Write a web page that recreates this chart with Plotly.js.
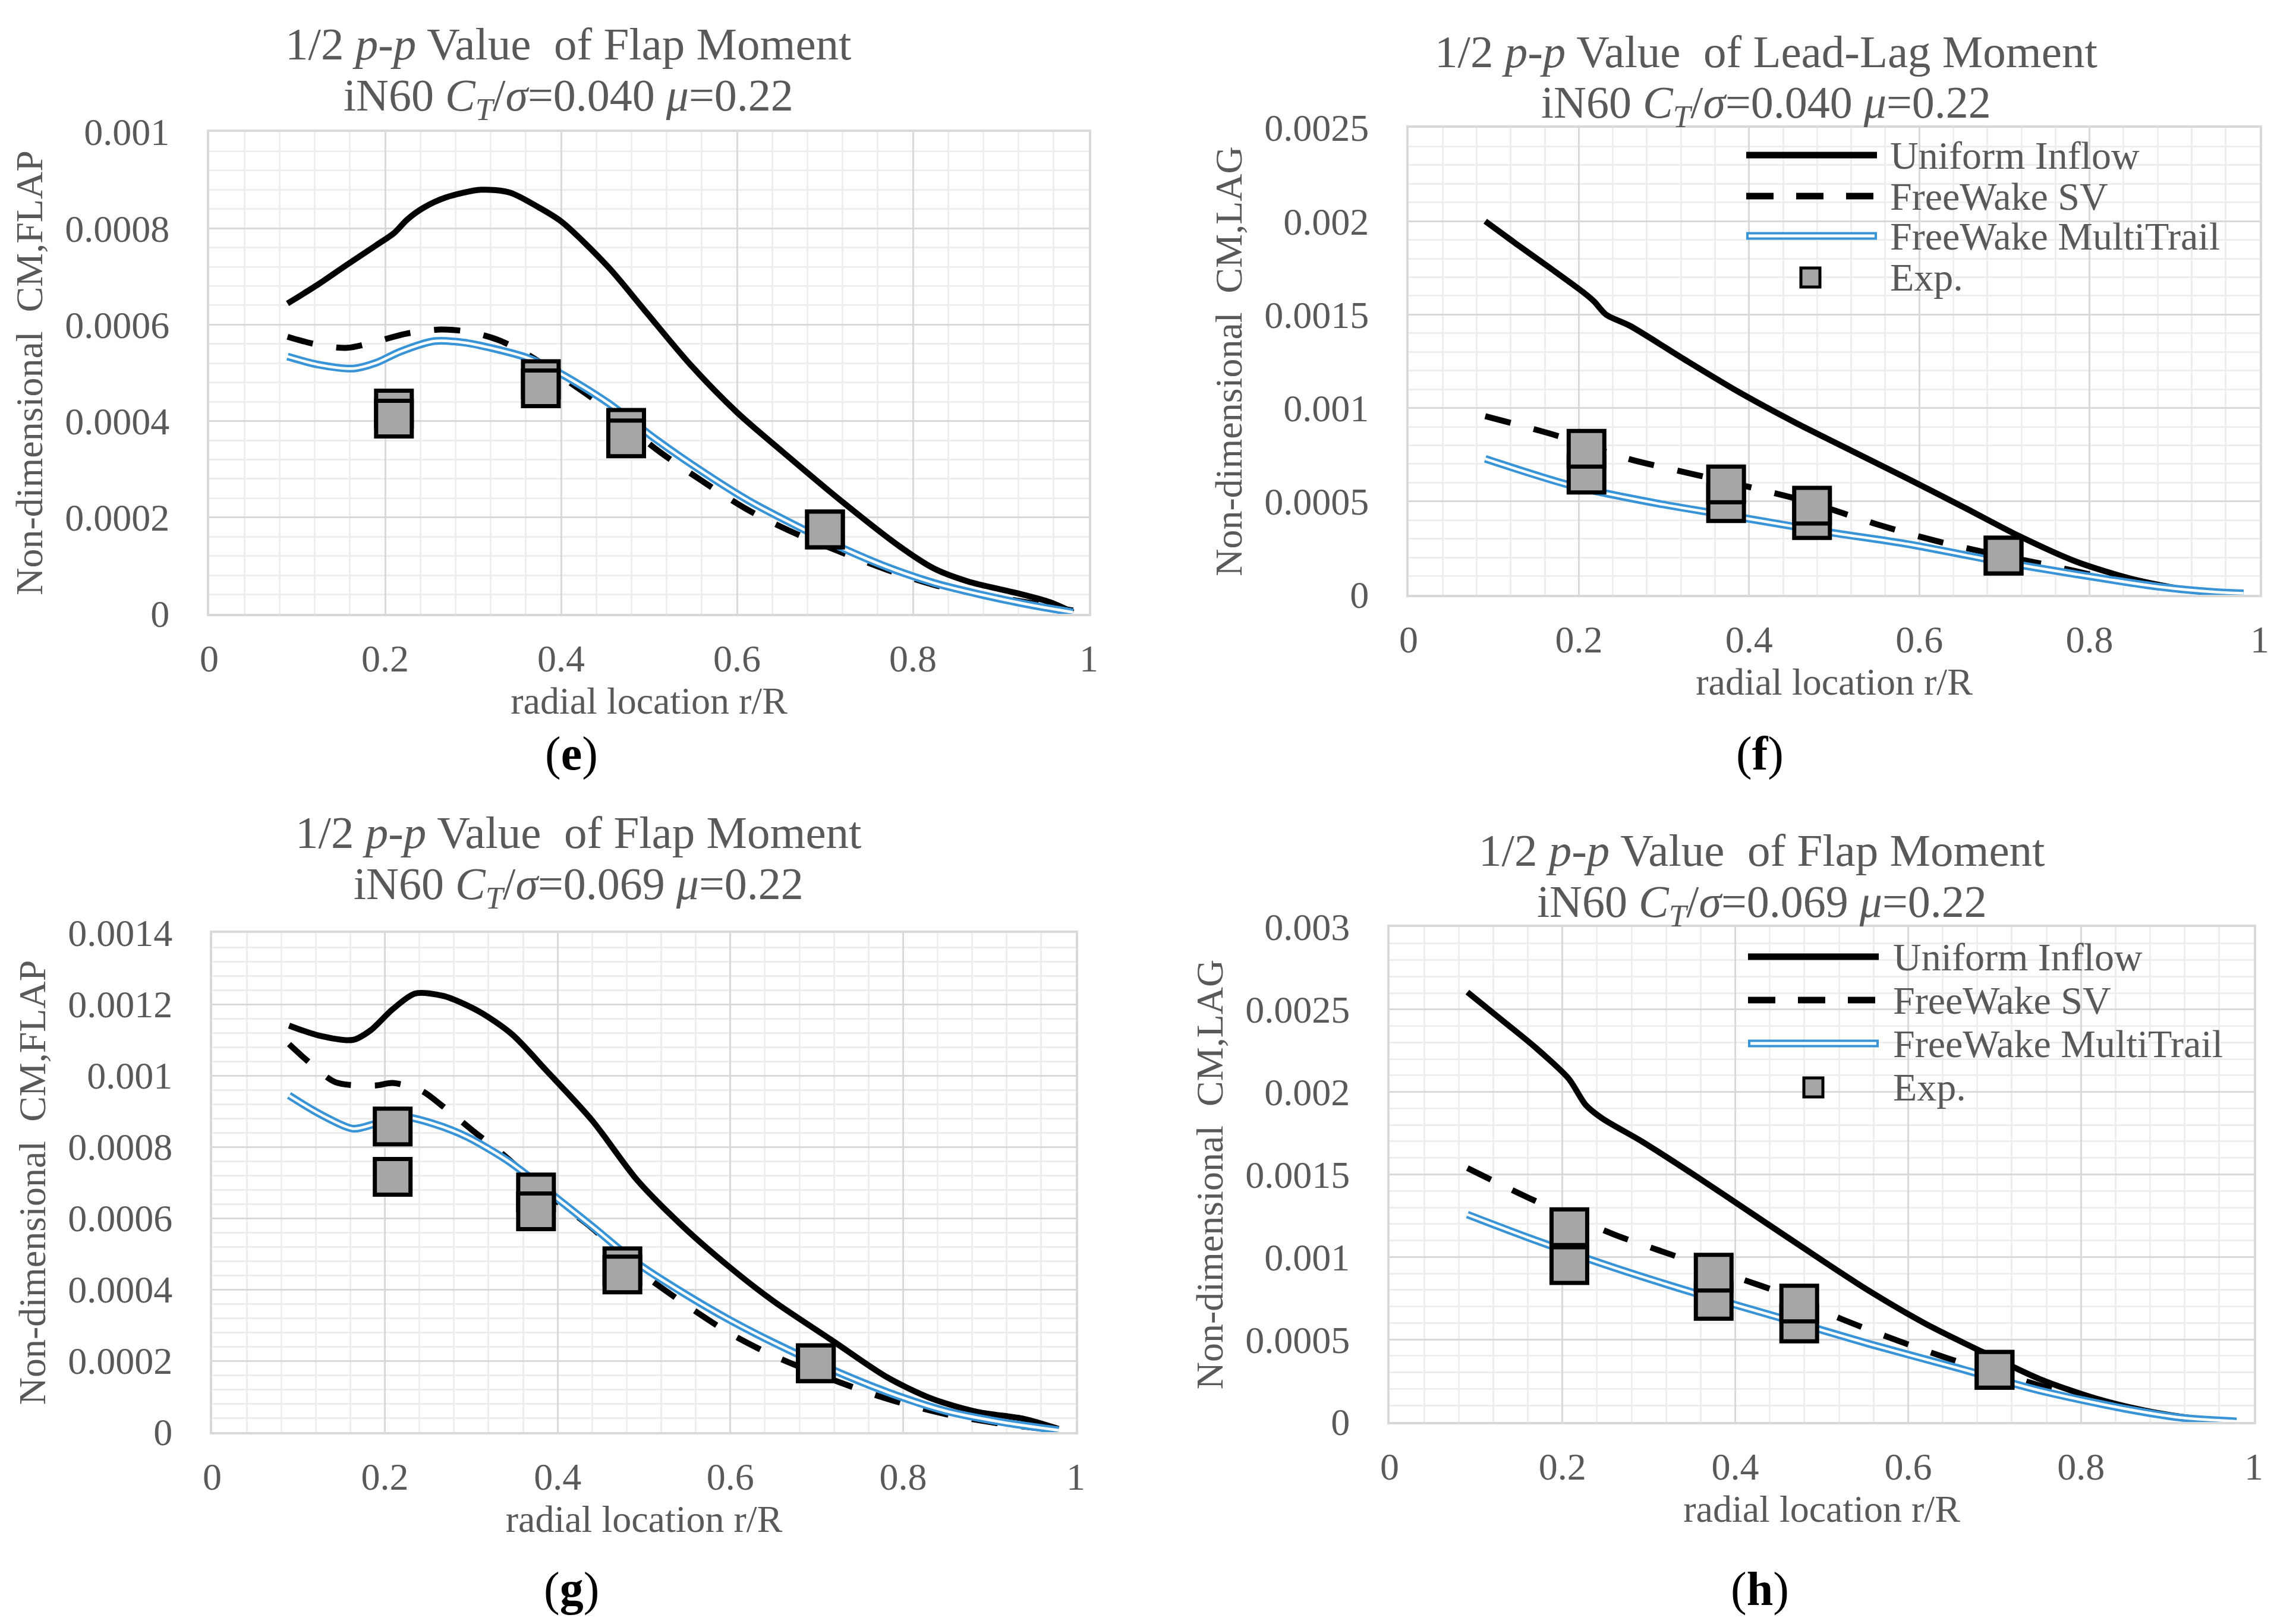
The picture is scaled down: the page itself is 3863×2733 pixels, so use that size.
<!DOCTYPE html>
<html>
<head>
<meta charset="utf-8">
<script src="https://cdn.plot.ly/plotly-3.0.1.min.js"></script>
<style>html,body{margin:0;padding:0;background:#fff;}#chart{width:3863px;height:2733px;}</style>
</head>
<body>
<div id="chart"></div>
<script>
// ---------- DATA ----------
// Panel (e): Flap moment, CT/sigma = 0.040
const E_UNI_X = [0.089,0.125,0.157,0.19,0.21,0.225,0.243,0.269,0.309,0.342,0.375,0.401,0.454,0.494,0.547,0.6,0.652,0.718,0.784,0.824,0.863,0.916,0.956,0.982];
const E_UNI_Y = [0.000644,0.000685,0.000725,0.000765,0.00079,0.000818,0.000842,0.000864,0.00088,0.000874,0.000843,0.000813,0.000719,0.000632,0.000517,0.000418,0.000336,0.000235,0.000141,0.000094,0.000067,0.000044,0.000024,0.000003];
const E_SV_X = [0.089,0.124,0.157,0.19,0.223,0.263,0.296,0.329,0.362,0.401,0.454,0.507,0.56,0.613,0.665,0.718,0.771,0.824,0.877,0.929,0.982];
const E_SV_Y = [0.000575,0.000558,0.000552,0.000565,0.000581,0.00059,0.000585,0.000568,0.000538,0.000491,0.000423,0.000343,0.000276,0.000215,0.000168,0.000128,0.000091,0.00006,0.00004,0.000024,0.000007];
const E_MT_X = [0.089,0.124,0.164,0.19,0.217,0.256,0.289,0.322,0.362,0.401,0.454,0.507,0.56,0.613,0.665,0.718,0.771,0.824,0.877,0.929,0.982];
const E_MT_Y = [0.000534,0.000517,0.000509,0.000521,0.000544,0.000566,0.000563,0.000551,0.000531,0.000497,0.000437,0.000363,0.000296,0.000235,0.000185,0.000138,0.000097,0.000064,0.00004,0.00002,0.000003];
const E_EXP_X = [0.21,0.377,0.474,0.70];
const E_EXP_A = [0.000426,0.000487,0.000386,0.000175];
const E_EXP_B = [0.000405,0.000468,0.000364,0.000175];

// Panel (f): Lead-lag moment, CT/sigma = 0.040
const F_UNI_X = [0.09,0.126,0.166,0.205,0.218,0.232,0.26,0.324,0.39,0.455,0.521,0.587,0.653,0.718,0.784,0.85,0.916,0.95,0.981];
const F_UNI_Y = [0.002,0.00188,0.00175,0.00162,0.00157,0.0015,0.00144,0.00126,0.00108,0.00092,0.00077,0.00062,0.000467,0.000313,0.000178,0.000085,0.000025,0.00001,0.000005];
const F_SV_X = [0.09,0.172,0.258,0.337,0.402,0.468,0.554,0.62,0.685,0.75,0.817,0.883,0.949,0.981];
const F_SV_Y = [0.000956,0.000855,0.000728,0.000643,0.000575,0.000499,0.000372,0.000288,0.00022,0.000161,0.000093,0.000042,0.000014,0.000008];
const F_MT_X = [0.09,0.192,0.29,0.389,0.488,0.587,0.685,0.784,0.883,0.949,0.981];
const F_MT_Y = [0.000728,0.000584,0.000491,0.000415,0.000339,0.000271,0.000186,0.00011,0.000042,0.000014,0.000008];
const F_EXP_X = [0.209,0.373,0.474,0.699];
const F_EXP_A = [0.000643,0.000491,0.0004,0.00021];
const F_EXP_B = [0.000782,0.000591,0.000477,0.00021];

// Panel (g): Flap moment, CT/sigma = 0.069
const G_UNI_X = [0.089,0.124,0.163,0.183,0.209,0.235,0.268,0.308,0.347,0.387,0.44,0.492,0.545,0.598,0.65,0.716,0.782,0.834,0.887,0.94,0.98];
const G_UNI_Y = [0.00114,0.001112,0.0011,0.001126,0.001186,0.00123,0.001223,0.001181,0.001116,0.001014,0.000874,0.000707,0.000577,0.000465,0.000367,0.00026,0.000153,0.000093,0.000056,0.000037,0.000009];
const G_SV_X = [0.089,0.11,0.143,0.189,0.209,0.242,0.268,0.301,0.34,0.387,0.44,0.492,0.545,0.598,0.65,0.716,0.782,0.848,0.914,0.98];
const G_SV_Y = [0.001088,0.001042,0.000981,0.000972,0.000979,0.000958,0.000912,0.000847,0.000772,0.00067,0.000572,0.000456,0.000363,0.000279,0.000214,0.000149,0.000093,0.000051,0.000023,0.000005];
const G_MT_X = [0.089,0.124,0.163,0.189,0.216,0.256,0.295,0.341,0.387,0.44,0.492,0.545,0.598,0.65,0.716,0.782,0.848,0.914,0.98];
const G_MT_Y = [0.000944,0.000893,0.000851,0.000865,0.000886,0.000865,0.000828,0.000763,0.000679,0.000577,0.000474,0.000391,0.000316,0.000251,0.000177,0.000112,0.00006,0.000028,0.000005];
const G_EXP_X = [0.209,0.375,0.475,0.699];
const G_EXP_A = [0.000857,0.000672,0.000465,0.000193];
const G_EXP_B = [0.000716,0.000619,0.000442,0.000193];

// Panel (h): Lead-lag moment, CT/sigma = 0.069
const H_UNI_X = [0.09,0.128,0.168,0.207,0.227,0.246,0.292,0.358,0.424,0.49,0.555,0.621,0.687,0.752,0.818,0.883,0.949,0.98];
const H_UNI_Y = [0.002605,0.002444,0.002273,0.002082,0.001921,0.00184,0.0017,0.001478,0.001247,0.001016,0.000794,0.000593,0.000422,0.000261,0.000141,0.00006,0.00001,0.000004];
const H_SV_X = [0.09,0.161,0.26,0.325,0.391,0.457,0.523,0.588,0.654,0.72,0.785,0.851,0.916,0.98];
const H_SV_Y = [0.001539,0.001358,0.001136,0.001016,0.000895,0.000774,0.000624,0.000493,0.000372,0.000272,0.000171,0.00009,0.00003,0.000004];
const H_MT_X = [0.09,0.161,0.26,0.358,0.457,0.555,0.654,0.752,0.851,0.916,0.98];
const H_MT_Y = [0.001257,0.001116,0.000935,0.000774,0.000624,0.000473,0.000332,0.000191,0.00008,0.000026,0.000004];
const H_EXP_X = [0.208,0.375,0.474,0.70];
const H_EXP_A = [0.000951,0.000734,0.000597,0.000316];
const H_EXP_B = [0.00118,0.000905,0.000718,0.000316];

// Tick labels
const X_TICKS = [0,0.2,0.4,0.6,0.8,1];
const X_TICKTEXT = ['0','0.2','0.4','0.6','0.8','1'];
const E_YTICKS = [0,0.0002,0.0004,0.0006,0.0008,0.001];
const E_YTICKTEXT = ['0','0.0002','0.0004','0.0006','0.0008','0.001'];
const F_YTICKS = [0,0.0005,0.001,0.0015,0.002,0.0025];
const F_YTICKTEXT = ['0','0.0005','0.001','0.0015','0.002','0.0025'];
const G_YTICKS = [0,0.0002,0.0004,0.0006,0.0008,0.001,0.0012,0.0014];
const G_YTICKTEXT = ['0','0.0002','0.0004','0.0006','0.0008','0.001','0.0012','0.0014'];
const H_YTICKS = [0,0.0005,0.001,0.0015,0.002,0.0025,0.003];
const H_YTICKTEXT = ['0','0.0005','0.001','0.0015','0.002','0.0025','0.003'];

const SERIES_NAMES = ['Uniform Inflow','FreeWake SV','FreeWake MultiTrail','Exp.'];
const TITLE_1 = ['1/2 <i>p-p</i> Value\u00a0 of Flap Moment','1/2 <i>p-p</i> Value\u00a0 of Lead-Lag Moment','1/2 <i>p-p</i> Value\u00a0 of Flap Moment','1/2 <i>p-p</i> Value\u00a0 of Flap Moment'];
const TITLE_2 = ['iN60 <i>C<sub>T</sub></i>/<i>σ</i>=0.040 <i>μ</i>=0.22','iN60 <i>C<sub>T</sub></i>/<i>σ</i>=0.040 <i>μ</i>=0.22','iN60 <i>C<sub>T</sub></i>/<i>σ</i>=0.069 <i>μ</i>=0.22','iN60 <i>C<sub>T</sub></i>/<i>σ</i>=0.069 <i>μ</i>=0.22'];
const Y_TITLES = ['Non-dimensional\u00a0 CM,FLAP','Non-dimensional\u00a0 CM,LAG','Non-dimensional\u00a0 CM,FLAP','Non-dimensional\u00a0 CM,LAG'];
const X_TITLE = 'radial location r/R';
const PANEL_LABELS = ['(<b>e</b>)','(<b>f</b>)','(<b>g</b>)','(<b>h</b>)'];

// ---------- STYLE / LAYOUT ----------
const W = 3863, H = 2733;
const px = v => v / W;
const py = v => 1 - v / H;
const FONT = 'Liberation Serif, Times New Roman, serif';
const TXT = '#595959';
const BLUE = '#3894d6';
const GREY_FILL = '#a6a6a6';

const panels = [
  {ux:E_UNI_X,uy:E_UNI_Y,sx:E_SV_X,sy:E_SV_Y,mx:E_MT_X,my:E_MT_Y,ex:E_EXP_X,ea:E_EXP_A,eb:E_EXP_B,
   yt:E_YTICKS,ytt:E_YTICKTEXT,yr:[0,0.001],ym:0.00004,
   dom:{x0:352,x1:1832,y0:222,y1:1033}, title:[956,74,166], label:[961,1268], legend:null},
  {ux:F_UNI_X,uy:F_UNI_Y,sx:F_SV_X,sy:F_SV_Y,mx:F_MT_X,my:F_MT_Y,ex:F_EXP_X,ea:F_EXP_A,eb:F_EXP_B,
   yt:F_YTICKS,ytt:F_YTICKTEXT,yr:[0,0.0025],ym:0.0001,
   dom:{x0:2370,x1:3802,y0:215,y1:1001}, title:[2971,87,178], label:[2961,1268],
   legend:{lx0:2938,lx1:3158,tx:3178,mx:3046,rows:[261,330,397,467]}},
  {ux:G_UNI_X,uy:G_UNI_Y,sx:G_SV_X,sy:G_SV_Y,mx:G_MT_X,my:G_MT_Y,ex:G_EXP_X,ea:G_EXP_A,eb:G_EXP_B,
   yt:G_YTICKS,ytt:G_YTICKTEXT,yr:[0,0.0014],ym:0.00004,
   dom:{x0:357,x1:1810,y0:1570,y1:2410}, title:[973,1401,1493], label:[961,2674], legend:null},
  {ux:H_UNI_X,uy:H_UNI_Y,sx:H_SV_X,sy:H_SV_Y,mx:H_MT_X,my:H_MT_Y,ex:H_EXP_X,ea:H_EXP_A,eb:H_EXP_B,
   yt:H_YTICKS,ytt:H_YTICKTEXT,yr:[0,0.003],ym:0.0001,
   dom:{x0:2338,x1:3792,y0:1560,y1:2393}, title:[2964,1431,1523], label:[2961,2674],
   legend:{lx0:2941,lx1:3161,tx:3183,mx:3051,rows:[1610,1683,1756,1830]}}
];

const traces = [];
const layout = {
  width: W, height: H,
  margin: {l:0,r:0,t:0,b:0},
  paper_bgcolor: '#ffffff', plot_bgcolor: '#ffffff',
  showlegend: false,
  font: {family: FONT, color: TXT, size: 64},
  annotations: [], shapes: []
};

panels.forEach((p, i) => {
  const n = i + 1;
  const xa = n === 1 ? 'x' : 'x' + n;
  const ya = n === 1 ? 'y' : 'y' + n;
  const xk = n === 1 ? 'xaxis' : 'xaxis' + n;
  const yk = n === 1 ? 'yaxis' : 'yaxis' + n;

  traces.push({x:p.ux, y:p.uy, xaxis:xa, yaxis:ya, type:'scatter', mode:'lines', name:SERIES_NAMES[0],
    line:{color:'#000000', width:10, shape:'spline', smoothing:0.8}});
  traces.push({x:p.sx, y:p.sy, xaxis:xa, yaxis:ya, type:'scatter', mode:'lines', name:SERIES_NAMES[1],
    line:{color:'#000000', width:10, dash:'44px,40px', shape:'spline', smoothing:0.8}});
  traces.push({x:p.mx, y:p.my, xaxis:xa, yaxis:ya, type:'scatter', mode:'lines', name:SERIES_NAMES[2],
    line:{color:BLUE, width:13, shape:'spline', smoothing:0.8}});
  traces.push({x:p.mx, y:p.my, xaxis:xa, yaxis:ya, type:'scatter', mode:'lines', name:SERIES_NAMES[2] + ' (core)',
    hoverinfo:'skip', line:{color:'#ffffff', width:4.5, shape:'spline', smoothing:0.8}});
  traces.push({x:p.ex.concat(p.ex), y:p.ea.concat(p.eb), xaxis:xa, yaxis:ya, type:'scatter', mode:'markers', name:SERIES_NAMES[3],
    cliponaxis:false,
    marker:{symbol:'square', size:60, color:GREY_FILL, line:{color:'#000000', width:7}}});

  const axCommon = {
    showline:true, mirror:true, linecolor:'#d9d9d9', linewidth:4,
    showgrid:true, gridcolor:'#d9d9d9', gridwidth:3, zeroline:false,
    ticks:'', tickfont:{family:FONT, size:64, color:TXT}, fixedrange:true
  };
  layout[xk] = Object.assign({}, axCommon, {
    domain:[px(p.dom.x0), px(p.dom.x1)], anchor:ya, range:[0,1],
    tickmode:'array', tickvals:X_TICKS, ticktext:X_TICKTEXT, ticklabelstandoff:16,
    minor:{tickmode:'linear', tick0:0, dtick:0.04, showgrid:true, gridcolor:'#eeeeee', gridwidth:3, ticks:''},
    title:{text:X_TITLE, font:{family:FONT, size:64, color:TXT}, standoff:0}
  });
  layout[yk] = Object.assign({}, axCommon, {
    domain:[py(p.dom.y1), py(p.dom.y0)], anchor:xa, range:p.yr,
    tickmode:'array', tickvals:p.yt, ticktext:p.ytt, ticklabelstandoff:50,
    minor:{tickmode:'linear', tick0:0, dtick:p.ym, showgrid:true, gridcolor:'#eeeeee', gridwidth:3, ticks:''},
    title:{text:Y_TITLES[i], font:{family:FONT, size:64, color:TXT}, standoff:18}
  });

  // titles
  layout.annotations.push({xref:'paper', yref:'paper', x:px(p.title[0]), y:py(p.title[1]), xanchor:'center', yanchor:'middle',
    text:TITLE_1[i], showarrow:false, font:{family:FONT, size:77, color:TXT}});
  layout.annotations.push({xref:'paper', yref:'paper', x:px(p.title[0]), y:py(p.title[2]), xanchor:'center', yanchor:'middle',
    text:TITLE_2[i], showarrow:false, font:{family:FONT, size:76, color:TXT}});
  // panel label
  layout.annotations.push({xref:'paper', yref:'paper', x:px(p.label[0]), y:py(p.label[1]), xanchor:'center', yanchor:'middle',
    text:PANEL_LABELS[i], showarrow:false, font:{family:FONT, size:80, color:'#000000'}});

  // legend (drawn as key samples + text)
  if (p.legend) {
    const L = p.legend;
    layout.shapes.push({type:'line', xref:'paper', yref:'paper', x0:px(L.lx0), x1:px(L.lx1), y0:py(L.rows[0]), y1:py(L.rows[0]),
      line:{color:'#000000', width:11}, layer:'above'});
    layout.shapes.push({type:'line', xref:'paper', yref:'paper', x0:px(L.lx0), x1:px(L.lx1), y0:py(L.rows[1]), y1:py(L.rows[1]),
      line:{color:'#000000', width:11, dash:'46px,38px'}, layer:'above'});
    layout.shapes.push({type:'line', xref:'paper', yref:'paper', x0:px(L.lx0), x1:px(L.lx1), y0:py(L.rows[2]), y1:py(L.rows[2]),
      line:{color:BLUE, width:13}, layer:'above'});
    layout.shapes.push({type:'line', xref:'paper', yref:'paper', x0:px(L.lx0 + 4), x1:px(L.lx1 - 4), y0:py(L.rows[2]), y1:py(L.rows[2]),
      line:{color:'#ffffff', width:5}, layer:'above'});
    layout.shapes.push({type:'rect', xref:'paper', yref:'paper', x0:px(L.mx - 16), x1:px(L.mx + 16), y0:py(L.rows[3] - 16), y1:py(L.rows[3] + 16),
      fillcolor:GREY_FILL, line:{color:'#000000', width:5}, layer:'above'});
    SERIES_NAMES.forEach((nm, k) => {
      layout.annotations.push({xref:'paper', yref:'paper', x:px(L.tx), y:py(L.rows[k]), xanchor:'left', yanchor:'middle',
        text:nm, showarrow:false, font:{family:FONT, size:66, color:TXT}});
    });
  }
});

Plotly.newPlot('chart', traces, layout, {staticPlot:true, displayModeBar:false});
</script>
</body>
</html>
